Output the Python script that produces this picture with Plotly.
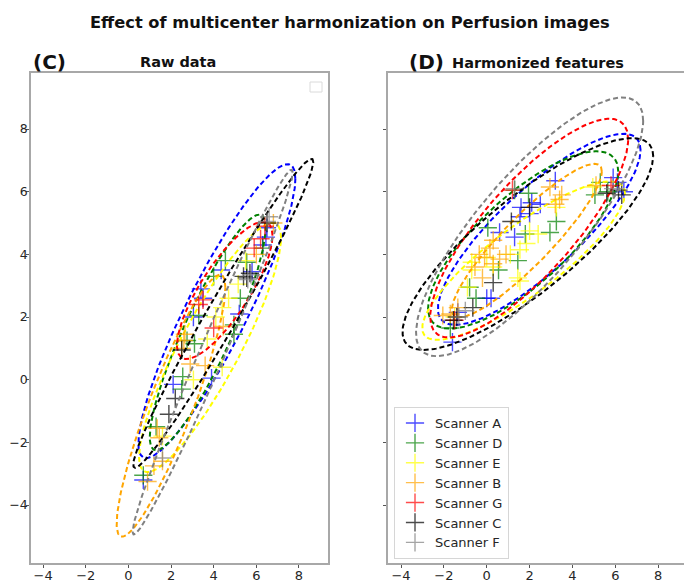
import numpy as np
import plotly.graph_objects as go

# ---------------- data ----------------
scanners = ["Scanner A", "Scanner D", "Scanner E", "Scanner B", "Scanner G", "Scanner C", "Scanner F"]
colors = ["#0000ff", "#008000", "#ffff00", "#ffa500", "#ff0000", "#000000", "#808080"]

# Raw data (panel C) points
raw_A_x = [6.5, 6.45, 6.3, 4.35, 5.8, 3.4, 3.5, 3.05, 5.2, 2.1, 3.9, 0.7]
raw_A_y = [4.85, 4.55, 4.3, 3.5, 3.45, 2.9, 2.6, 2.0, 2.1, -0.15, 0.05, -3.2]
raw_D_x = [6.3, 4.55, 5.55, 4.0, 5.25, 3.3, 4.95, 4.95, 3.1, 2.75, 2.55, 2.5, 1.3, 0.7]
raw_D_y = [4.2, 3.8, 3.75, 3.3, 2.6, 2.05, 1.75, 1.45, 1.15, 1.25, 0.1, -0.3, -1.5, -3.05]
raw_E_x = [5.5, 5.15, 4.7, 4.4, 4.1, 3.7, 3.05, 4.4, 1.6]
raw_E_y = [3.8, 3.05, 2.6, 2.3, 2.0, 1.3, 0.0, 0.4, -1.8]
raw_B_x = [6.8, 6.0, 4.45, 2.65, 2.6, 2.5, 2.9, 3.6, 1.35, 1.45, 1.6, 1.2, 0.9]
raw_B_y = [5.0, 4.0, 1.7, 1.45, 1.25, 1.0, 0.5, 0.45, -1.55, -1.85, -2.6, -2.75, -3.25]
raw_G_x = [6.4, 6.2, 5.9, 3.5, 3.3, 4.0]
raw_G_y = [4.9, 4.5, 4.2, 2.55, 2.4, 1.65]
raw_C_x = [6.5, 5.7, 5.55, 5.4, 2.5, 2.2, 1.9]
raw_C_y = [5.0, 3.4, 3.25, 3.3, 0.95, -0.6, -1.1]
raw_F_x = [6.6, 6.5, 5.75, 5.6, 1.6]
raw_F_y = [5.2, 5.05, 3.35, 3.2, -2.5]

# Harmonized features (panel D) points
harm_A_x = [3.2, 2.5, 2.1, 1.55, 1.6, 2.0, 0.6, 1.3, 0.2, 0.0, -1.35, 5.9, 6.1, 6.4, -1.6]
harm_A_y = [6.35, 5.6, 5.65, 5.2, 5.5, 5.3, 4.7, 4.55, 2.6, 2.6, 2.15, 6.45, 6.3, 6.0, 1.2]
harm_D_x = [1.3, 1.95, 3.25, 2.95, 1.8, 0.05, 0.55, 1.45, -0.8, -0.5, -1.7, 5.05, 5.65, 5.3]
harm_D_y = [6.05, 5.95, 5.05, 4.7, 4.65, 4.85, 3.5, 3.8, 2.95, 2.6, 1.65, 5.9, 6.0, 6.3]
harm_E_x = [2.4, 1.85, 1.55, -0.7, -0.7, 0.0, 1.45, 1.55, -0.9, 3.25, 4.95, 2.0, 0.3, -1.5, 1.1]
harm_E_y = [4.65, 4.35, 4.15, 3.5, 3.75, 3.9, 3.25, 3.15, 2.95, 5.5, 6.15, 4.75, 3.6, 2.0, 4.0]
harm_B_x = [2.95, 3.4, 3.2, 3.5, 0.3, -0.35, -0.1, 0.6, 0.3, -0.55, -0.2, -1.7, -1.35, 5.1, 0.15, -2.05, 0.9]
harm_B_y = [6.15, 5.75, 5.6, 5.9, 4.45, 4.0, 3.9, 3.85, 3.7, 3.6, 3.25, 2.1, 2.3, 6.2, 4.2, 2.05, 4.0]
harm_G_x = [1.2, 5.8, -1.5]
harm_G_y = [6.05, 6.2, 1.9]
harm_C_x = [2.0, 1.15, 0.3, -0.65, -1.4, -1.55, 5.6, 6.3, 6.15]
harm_C_y = [5.5, 5.05, 3.1, 2.3, 2.0, 1.9, 5.95, 5.9, 6.05]
harm_F_x = [1.3, -1.3, 5.9, -1.0]
harm_F_y = [6.1, 2.0, 6.1, 2.2]

# Confidence ellipses (order A, D, E, B, G, C, F): centre, half extents, correlation
raw_ell_cx = [4.15, 3.72, 3.83, 2.0, 4.52, 4.45, 3.95]
raw_ell_cy = [2.19, 1.51, 1.03, -0.83, 2.85, 2.12, 0.88]
raw_ell_hx = [3.68, 2.72, 3.33, 2.55, 2.24, 4.22, 3.75]
raw_ell_hy = [4.69, 3.76, 3.98, 4.18, 2.19, 4.93, 5.82]
raw_ell_rho = [0.90, 0.89, 0.88, 0.90, 0.80, 0.98, 0.985]

harm_ell_cx = [2.45, 1.7, 1.72, 1.87, 1.98, 1.92, 2.0]
harm_ell_cy = [4.8, 4.46, 3.8, 4.44, 4.84, 4.33, 4.88]
harm_ell_hx = [4.73, 4.44, 4.73, 3.5, 4.62, 5.85, 5.3]
harm_ell_hy = [3.05, 2.83, 2.53, 2.45, 3.49, 3.38, 4.13]
harm_ell_rho = [0.83, 0.77, 0.85, 0.90, 0.81, 0.83, 0.82]

tick_vals = [-4, -2, 0, 2, 4, 6, 8]

raw_x = [raw_A_x, raw_D_x, raw_E_x, raw_B_x, raw_G_x, raw_C_x, raw_F_x]
raw_y = [raw_A_y, raw_D_y, raw_E_y, raw_B_y, raw_G_y, raw_C_y, raw_F_y]
harm_x = [harm_A_x, harm_D_x, harm_E_x, harm_B_x, harm_G_x, harm_C_x, harm_F_x]
harm_y = [harm_A_y, harm_D_y, harm_E_y, harm_B_y, harm_G_y, harm_C_y, harm_F_y]


def ellipse(cx, cy, hx, hy, rho, n=240):
    t = np.linspace(0, 2 * np.pi, n)
    x = cx + hx * np.cos(t)
    y = cy + hy * (rho * np.cos(t) + np.sqrt(1 - rho ** 2) * np.sin(t))
    return x, y


fig = go.Figure()

FONT = "DejaVu Sans, Liberation Sans, sans-serif"

panels = [
    ("x", "y", raw_x, raw_y, raw_ell_cx, raw_ell_cy, raw_ell_hx, raw_ell_hy, raw_ell_rho, False),
    ("x2", "y2", harm_x, harm_y, harm_ell_cx, harm_ell_cy, harm_ell_hx, harm_ell_hy, harm_ell_rho, True),
]

for xa, ya, px, py, ecx, ecy, ehx, ehy, erho, show in panels:
    for i, name in enumerate(scanners):
        fig.add_trace(go.Scatter(
            x=px[i], y=py[i], mode="markers", name=name,
            xaxis=xa, yaxis=ya, showlegend=show, legendgroup=name,
            marker=dict(symbol="cross-thin", size=13, opacity=0.7,
                        color=colors[i], line=dict(color=colors[i], width=1.4)),
            hoverinfo="skip",
        ))
        ex, ey = ellipse(ecx[i], ecy[i], ehx[i], ehy[i], erho[i])
        fig.add_trace(go.Scatter(
            x=ex, y=ey, mode="lines", xaxis=xa, yaxis=ya, showlegend=False,
            line=dict(color=colors[i], width=2, dash="5px,3px"),
            hoverinfo="skip",
        ))

base_axis = dict(
    showgrid=False, zeroline=False, showline=True, mirror=True, automargin=False,
    linecolor="#a8a8a8", linewidth=1.5, ticks="outside",
    tickcolor="#555555", tickwidth=1, tickvals=tick_vals,
)
x_axis = dict(base_axis, ticklen=3.5, ticklabelstandoff=-4,
              tickfont=dict(family=FONT, size=13, color="#262626"))
y_axis = dict(base_axis, ticklen=3, ticklabelstandoff=-4,
              tickfont=dict(family=FONT, size=12.5, color="#262626"))

# the page body adds an 8px offset, so positions are shifted by 8px
fig.update_layout(
    width=692, height=584,
    margin=dict(l=23, r=14, t=65, b=29, autoexpand=False),
    paper_bgcolor="white", plot_bgcolor="white",
    xaxis=dict(domain=[0, 0.4534], range=[-4.566, 9.36], anchor="y", **x_axis),
    yaxis=dict(domain=[0, 1], range=[-5.85, 9.79], anchor="x", **y_axis),
    xaxis2=dict(domain=[0.5450, 1], range=[-4.61, 9.30], anchor="y2", **x_axis),
    yaxis2=dict(domain=[0, 1], range=[-5.85, 9.79], anchor="x2", showticklabels=False,
                **y_axis),
    showlegend=True,
    legend=dict(
        x=0.5542, y=0.3184, xanchor="left", yanchor="top",
        bgcolor="rgba(255,255,255,0.85)", bordercolor="#d6d6d6", borderwidth=1,
        font=dict(family=FONT, size=13, color="#262626"),
        tracegroupgap=0,
    ),
    annotations=[
        dict(text="<b>Effect of multicenter harmonization on Perfusion images</b>",
             x=0.4870, y=1.104, xref="paper", yref="paper", showarrow=False,
             xanchor="center", yanchor="middle",
             font=dict(family=FONT, size=16.25, color="#111111")),
        dict(text="<b>(C)</b>", x=0.0, y=1.0224, xref="paper", yref="paper",
             showarrow=False, xanchor="left", yanchor="middle",
             font=dict(family=FONT, size=20, color="#111111")),
        dict(text="<b>Raw data</b>", x=0.2244, y=1.0224, xref="paper", yref="paper",
             showarrow=False, xanchor="center", yanchor="middle",
             font=dict(family=FONT, size=14.5, color="#111111")),
        dict(text="<b>(D)</b>", x=0.5740, y=1.0224, xref="paper", yref="paper",
             showarrow=False, xanchor="left", yanchor="middle",
             font=dict(family=FONT, size=20, color="#111111")),
        dict(text="<b>Harmonized features</b>", x=0.6397, y=1.0204, xref="paper", yref="paper",
             showarrow=False, xanchor="left", yanchor="middle",
             font=dict(family=FONT, size=14.5, color="#111111")),
    ],
    shapes=[
        dict(type="rect", xref="paper", yref="paper",
             x0=0.4260, x1=0.4443, y0=0.9612, y1=0.9816,
             line=dict(color="#dadada", width=1), fillcolor="white"),
    ],
)

fig.write_html("out.html")
